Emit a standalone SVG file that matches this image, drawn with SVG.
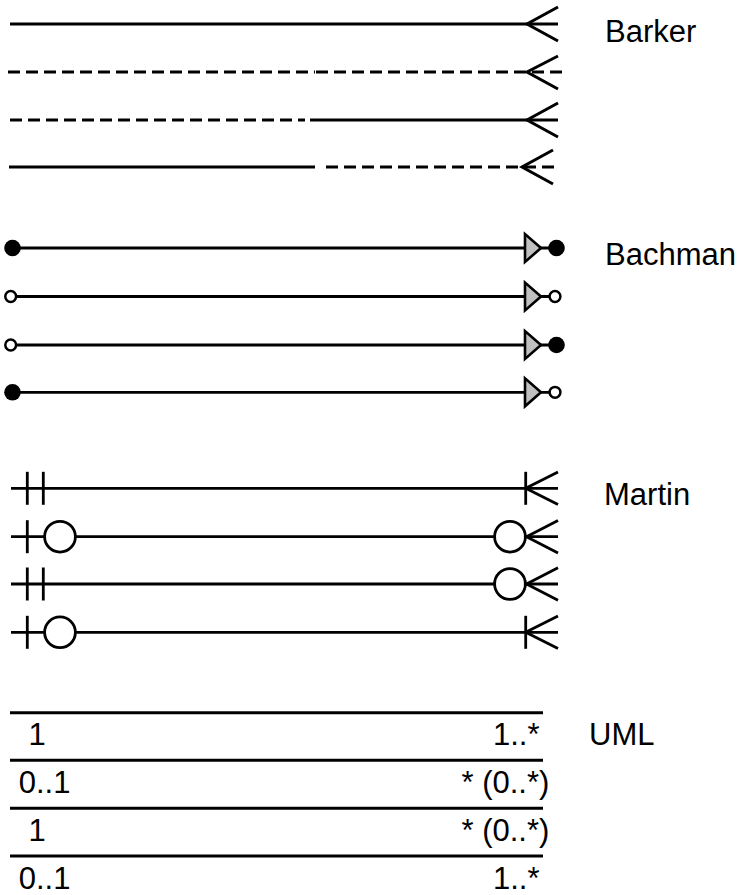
<svg xmlns="http://www.w3.org/2000/svg" width="740" height="895" viewBox="0 0 740 895">
  <style>
    .ln { stroke: #000; stroke-width: 3; fill: none; }
    .th { stroke: #000; stroke-width: 2.8; fill: none; }
    .dash { stroke-dasharray: 12 6; }
    .dot { fill: #000; }
    .ring { fill: #fff; stroke: #000; stroke-width: 2.5; }
    .tri { fill: #c0c0c0; stroke: #000; stroke-width: 2.6; stroke-linejoin: miter; }
    .bubble { fill: #fff; stroke: #000; stroke-width: 2.8; }
    .lbl { font-family: "Liberation Sans", Arial, sans-serif; font-size: 31px; fill: #000; }
  </style>

  <!-- Barker notation -->
  <g id="barker">
    <g id="barker-1">
      <line class="ln" x1="10" y1="24" x2="558" y2="24"/>
      <polyline class="ln" points="558,7 527,24 558,41"/>
    </g>
    <g id="barker-2">
      <line class="ln dash" x1="8" y1="72" x2="315" y2="72"/>
      <line class="ln dash" x1="316" y1="72" x2="562" y2="72"/>
      <polyline class="ln" points="558,56 527,72 558,89"/>
    </g>
    <g id="barker-3">
      <line class="ln dash" x1="10" y1="120" x2="305" y2="120"/>
      <line class="ln" x1="310" y1="120" x2="558" y2="120"/>
      <polyline class="ln" points="558,103 527,120 558,137"/>
    </g>
    <g id="barker-4">
      <line class="ln" x1="9" y1="167" x2="315" y2="167"/>
      <line class="ln dash" x1="326" y1="167" x2="560" y2="167"/>
      <polyline class="ln" points="553,150 522,167 553,184"/>
    </g>
    <text class="lbl" x="605" y="42">Barker</text>
  </g>

  <!-- Bachman notation: line runs end to end, triangle and end dots on top -->
  <g id="bachman">
    <g id="bachman-1">
      <line class="th" x1="14" y1="248" x2="550" y2="248"/>
      <circle class="dot" cx="12.5" cy="248" r="8.3"/>
      <polygon class="tri" points="525,234 525,262 541,248"/>
      <circle class="dot" cx="556.5" cy="248" r="8.3"/>
    </g>
    <g id="bachman-2">
      <line class="th" x1="16" y1="296.5" x2="550" y2="296.5"/>
      <circle class="ring" cx="10.7" cy="296.5" r="5.4"/>
      <polygon class="tri" points="525,282.5 525,310.5 541,296.5"/>
      <circle class="ring" cx="555" cy="296.5" r="5.4"/>
    </g>
    <g id="bachman-3">
      <line class="th" x1="16" y1="345" x2="550" y2="345"/>
      <circle class="ring" cx="10.7" cy="345" r="5.4"/>
      <polygon class="tri" points="525,331 525,359 541,345"/>
      <circle class="dot" cx="556.5" cy="345" r="8.3"/>
    </g>
    <g id="bachman-4">
      <line class="th" x1="14" y1="392.3" x2="550" y2="392.3"/>
      <circle class="dot" cx="12.5" cy="392.3" r="8.3"/>
      <polygon class="tri" points="525,378.3 525,406.3 541,392.3"/>
      <circle class="ring" cx="555" cy="392.3" r="5.4"/>
    </g>
    <text class="lbl" x="605" y="265">Bachman</text>
  </g>

  <!-- Martin (crow's foot) notation -->
  <g id="martin">
    <g id="martin-1">
      <line class="th" x1="11" y1="488.3" x2="558" y2="488.3"/>
      <line class="th" x1="27.3" y1="471.8" x2="27.3" y2="504.8"/>
      <line class="th" x1="43.3" y1="471.8" x2="43.3" y2="504.8"/>
      <line class="th" x1="525.7" y1="471.8" x2="525.7" y2="504.8"/>
      <polyline class="th" points="558,472 525.7,488.3 558,504.6"/>
    </g>
    <g id="martin-2">
      <line class="th" x1="11" y1="536.7" x2="558" y2="536.7"/>
      <line class="th" x1="27.3" y1="520.2" x2="27.3" y2="553.2"/>
      <circle class="bubble" cx="60" cy="536.7" r="15.4"/>
      <circle class="bubble" cx="510" cy="536.7" r="15.4"/>
      <polyline class="th" points="558,520.4 526.5,536.7 558,553"/>
    </g>
    <g id="martin-3">
      <line class="th" x1="11" y1="584" x2="558" y2="584"/>
      <line class="th" x1="27.3" y1="567.5" x2="27.3" y2="600.5"/>
      <line class="th" x1="43.3" y1="567.5" x2="43.3" y2="600.5"/>
      <circle class="bubble" cx="510" cy="584" r="15.4"/>
      <polyline class="th" points="558,567.7 526.5,584 558,600.3"/>
    </g>
    <g id="martin-4">
      <line class="th" x1="11" y1="632.3" x2="558" y2="632.3"/>
      <line class="th" x1="27.3" y1="615.8" x2="27.3" y2="648.8"/>
      <circle class="bubble" cx="60" cy="632.3" r="15.4"/>
      <line class="th" x1="525.7" y1="615.8" x2="525.7" y2="648.8"/>
      <polyline class="th" points="558,616 525.7,632.3 558,648.6"/>
    </g>
    <text class="lbl" x="604" y="505">Martin</text>
  </g>

  <!-- UML multiplicities -->
  <g id="uml">
    <g id="uml-1">
      <line class="ln" x1="10" y1="712.7" x2="543" y2="712.7"/>
      <text class="lbl" x="28.5" y="745">1</text>
      <text class="lbl" x="493" y="745">1..*</text>
    </g>
    <g id="uml-2">
      <line class="ln" x1="10" y1="760.3" x2="543" y2="760.3"/>
      <text class="lbl" x="18.7" y="793">0..1</text>
      <text class="lbl" x="461.5" y="793">* (0..*)</text>
    </g>
    <g id="uml-3">
      <line class="ln" x1="10" y1="808.3" x2="543" y2="808.3"/>
      <text class="lbl" x="28.5" y="840.5">1</text>
      <text class="lbl" x="461.5" y="840.5">* (0..*)</text>
    </g>
    <g id="uml-4">
      <line class="ln" x1="10" y1="856" x2="543" y2="856"/>
      <text class="lbl" x="18.7" y="888.5">0..1</text>
      <text class="lbl" x="493" y="888.5">1..*</text>
    </g>
    <text class="lbl" x="589" y="745">UML</text>
  </g>
</svg>
